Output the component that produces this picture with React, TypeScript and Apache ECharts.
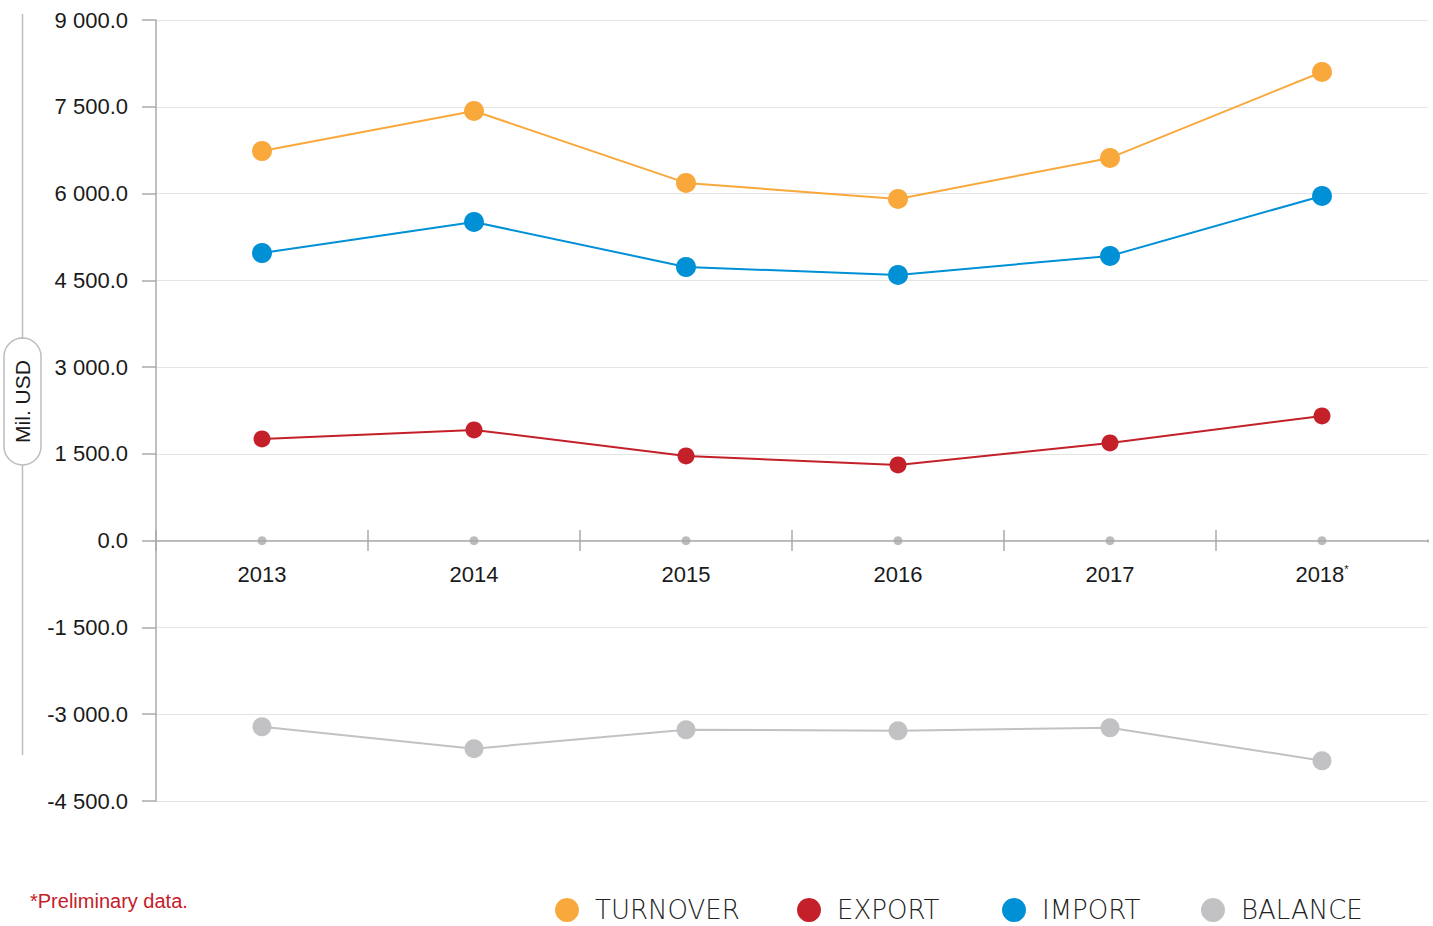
import React, { useEffect, useRef } from "react";
import * as echarts from "echarts";

const years = ["2013", "2014", "2015", "2016", "2017", "2018*"];
const turnover = [6736, 7428, 6184, 5907, 6616, 8102];
const exportVals = [1758, 1914, 1464, 1309, 1689, 2156];
const importVals = [4973, 5509, 4731, 4593, 4922, 5959];
const balance = [-3215, -3595, -3267, -3284, -3233, -3803];
const axisDots = [0, 0, 0, 0, 0, 0];
const yTicks = { min: -4500, max: 9000, interval: 1500 };
const legendNames = ["TURNOVER", "EXPORT", "IMPORT", "BALANCE"];
const legendLefts = [550, 792, 997, 1196];

function fmt(v: number): string {
  const neg = v < 0;
  const a = Math.abs(v);
  const s = Math.round(a).toString().replace(/\B(?=(\d{3})+(?!\d))/g, " ");
  return (neg ? "-" : "") + s + ".0";
}

export default function App() {
  const ref = useRef<HTMLDivElement>(null);
  useEffect(() => {
    if (!ref.current) return;
    const chart = echarts.init(ref.current, undefined, { renderer: "svg" });
    const labelFont = "'Liberation Sans', Arial, Helvetica, sans-serif";
    const zeroOffset = -260;
    chart.setOption({
      animation: false,
      grid: { left: 156, right: 5, top: 20, bottom: 125, containLabel: false },
      legend: legendNames.map((n, i) => ({
        data: [n],
        left: legendLefts[i],
        top: 892,
        icon: "circle",
        itemWidth: 24,
        itemHeight: 24,
        textStyle: {
          fontFamily: "'DejaVu Sans'",
          fontWeight: 200,
          fontSize: 26,
          lineHeight: 26,
          color: "#222",
          padding: [0, 0, 0, 11],
        },
      })),
      xAxis: [
        {
          type: "category",
          data: years,
          boundaryGap: true,
          position: "bottom",
          offset: zeroOffset,
          axisLine: { onZero: false, lineStyle: { color: "#aaaaaa", width: 1.5 } },
          axisTick: { show: true, inside: false, length: 10, lineStyle: { color: "#aaaaaa", width: 1.5 } },
          axisLabel: {
            margin: 22,
            fontFamily: labelFont,
            fontSize: 22,
            color: "#1a1a1a",
            formatter: (v: string) => (v.endsWith("*") ? v.slice(0, -1) + "{sup|*}" : v),
            rich: {
              sup: { fontSize: 11, verticalAlign: "top", fontFamily: labelFont, color: "#1a1a1a", padding: [0, 0, 10, 0] },
            },
          },
          splitLine: { show: false },
        },
        {
          type: "category",
          data: years,
          boundaryGap: true,
          position: "bottom",
          offset: zeroOffset,
          axisLine: { show: false, onZero: false },
          axisTick: { show: true, inside: true, length: 11, lineStyle: { color: "#aaaaaa", width: 1.5 } },
          axisLabel: { show: false },
          splitLine: { show: false },
        },
      ],
      yAxis: {
        type: "value",
        min: yTicks.min,
        max: yTicks.max,
        interval: yTicks.interval,
        axisLine: { show: true, lineStyle: { color: "#aaaaaa", width: 1.5 } },
        axisTick: { show: true, length: 14, lineStyle: { color: "#aaaaaa", width: 1.5 } },
        axisLabel: {
          margin: 28,
          fontFamily: labelFont,
          fontSize: 22,
          color: "#1a1a1a",
          formatter: (v: number) => fmt(v),
        },
        splitLine: { show: true, lineStyle: { color: "#e4e4e4", width: 1.2 } },
      },
      graphic: [
        { type: "line", shape: { x1: 22.5, y1: 14, x2: 22.5, y2: 755 }, style: { stroke: "#bdbdbd", lineWidth: 1.5 }, z: 1 },
        {
          type: "rect",
          shape: { x: 4, y: 338, width: 37, height: 127, r: 18.5 },
          style: { fill: "#ffffff", stroke: "#bdbdbd", lineWidth: 1.5 },
          z: 2,
        },
        {
          type: "text",
          x: 22.5,
          y: 401.5,
          rotation: Math.PI / 2,
          style: {
            text: "Mil. USD",
            font: "21px 'Liberation Sans', Arial, sans-serif",
            fill: "#1a1a1a",
            align: "center",
            verticalAlign: "middle",
          },
          z: 3,
        },
        {
          type: "text",
          left: 30,
          top: 891,
          style: {
            text: "*Preliminary data.",
            font: "20px 'Liberation Sans', Arial, sans-serif",
            fill: "#c4202a",
          },
        },
        { type: "rect", shape: { x: 1425, y: 527, width: 8, height: 12.5 }, style: { fill: "#ffffff" }, z: 100 },
        { type: "rect", shape: { x: 1425, y: 542.5, width: 8, height: 12 }, style: { fill: "#ffffff" }, z: 100 },
      ],
      series: [
        {
          name: "axisDots",
          type: "scatter",
          data: axisDots,
          symbolSize: 9,
          itemStyle: { color: "#aaaaaa" },
          z: 1,
          silent: true,
        },
        {
          name: "TURNOVER",
          type: "line",
          data: turnover,
          symbol: "circle",
          symbolSize: 20,
          lineStyle: { color: "#f9a83c", width: 2 },
          itemStyle: { color: "#f9a83c" },
          z: 3,
        },
        {
          name: "EXPORT",
          type: "line",
          data: exportVals,
          symbol: "circle",
          symbolSize: 17,
          lineStyle: { color: "#c4202a", width: 2 },
          itemStyle: { color: "#c4202a" },
          z: 3,
        },
        {
          name: "IMPORT",
          type: "line",
          data: importVals,
          symbol: "circle",
          symbolSize: 20,
          lineStyle: { color: "#0090d6", width: 2 },
          itemStyle: { color: "#0090d6" },
          z: 3,
        },
        {
          name: "BALANCE",
          type: "line",
          data: balance,
          symbol: "circle",
          symbolSize: 19,
          lineStyle: { color: "#c2c2c4", width: 2 },
          itemStyle: { color: "#c2c2c4" },
          z: 3,
        },
      ],
    });
    return () => chart.dispose();
  }, []);
  return <div ref={ref} style={{ width: 1433, height: 926, position: "absolute", left: 0, top: 0 }} />;
}
